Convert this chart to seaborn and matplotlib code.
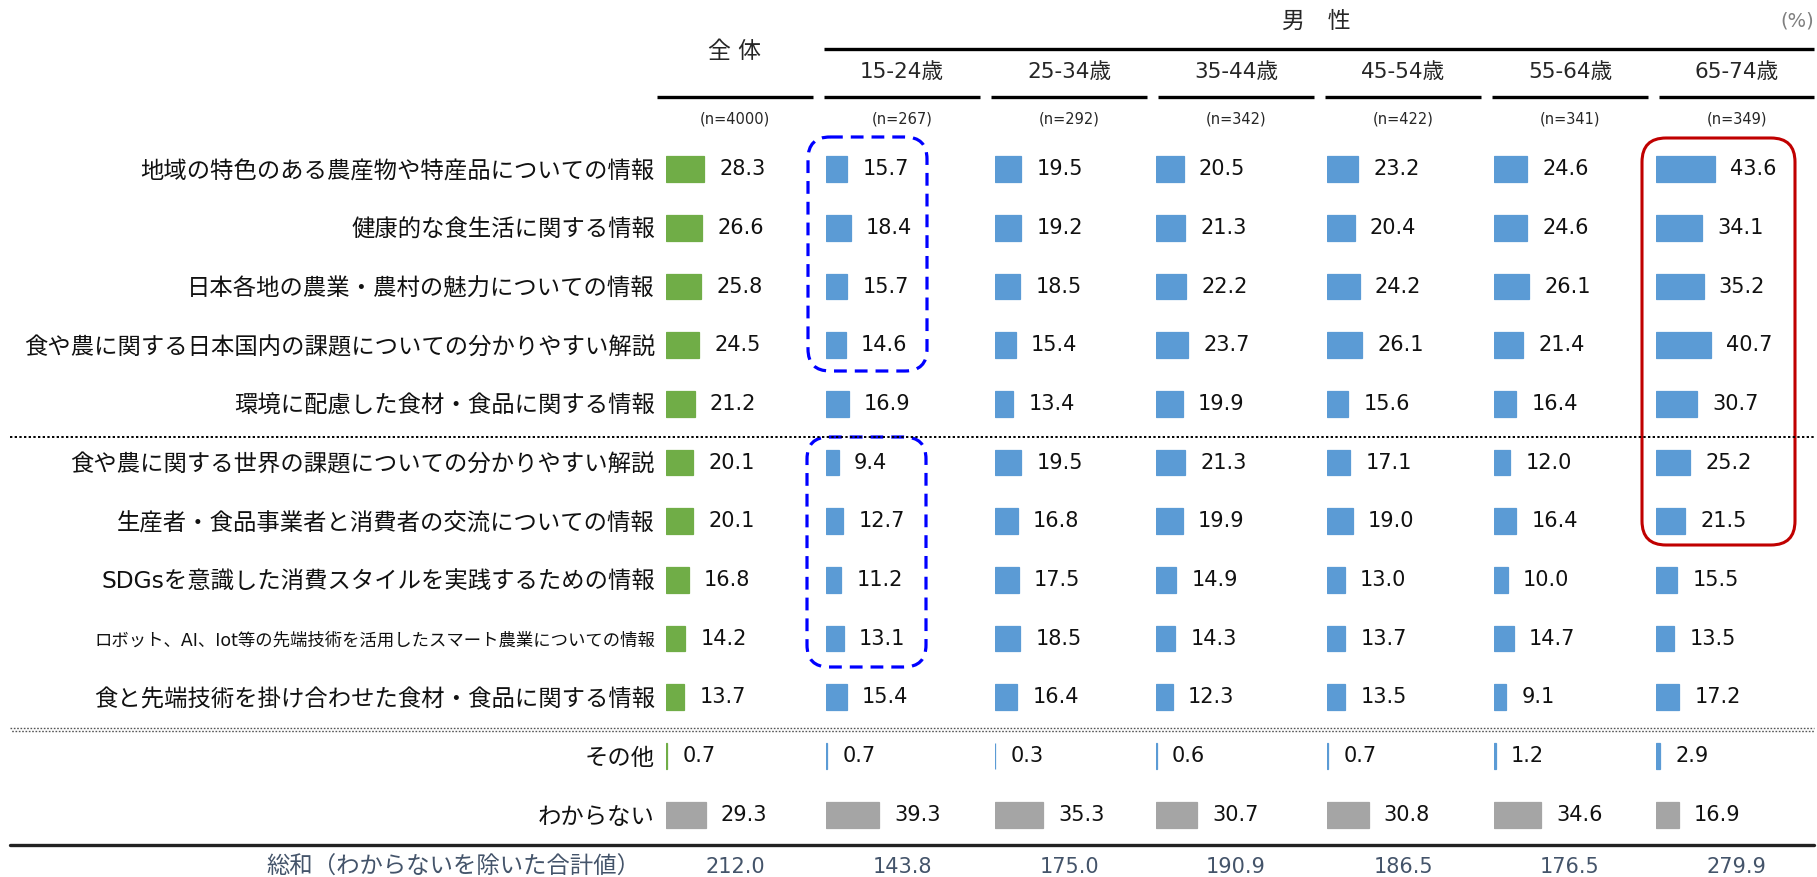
"""Wanted information about food and farming: total vs. male age groups."""

import matplotlib.pyplot as plt
import pandas as pd
import seaborn as sns
from matplotlib.patches import FancyBboxPatch

W, H = 1817, 877

ITEMS = [
    "地域の特色のある農産物や特産品についての情報",
    "健康的な食生活に関する情報",
    "日本各地の農業・農村の魅力についての情報",
    "食や農に関する日本国内の課題についての分かりやすい解説",
    "環境に配慮した食材・食品に関する情報",
    "食や農に関する世界の課題についての分かりやすい解説",
    "生産者・食品事業者と消費者の交流についての情報",
    "SDGsを意識した消費スタイルを実践するための情報",
    "ロボット、AI、Iot等の先端技術を活用したスマート農業についての情報",
    "食と先端技術を掛け合わせた食材・食品に関する情報",
    "その他",
    "わからない",
]
GROUPS = ["全 体", "15-24歳", "25-34歳", "35-44歳", "45-54歳", "55-64歳", "65-74歳"]
N_LABELS = ["(n=4000)", "(n=267)", "(n=292)", "(n=342)", "(n=422)", "(n=341)", "(n=349)"]

TOTAL_ALL = [28.3, 26.6, 25.8, 24.5, 21.2, 20.1, 20.1, 16.8, 14.2, 13.7, 0.7, 29.3]
MALE_15_24 = [15.7, 18.4, 15.7, 14.6, 16.9, 9.4, 12.7, 11.2, 13.1, 15.4, 0.7, 39.3]
MALE_25_34 = [19.5, 19.2, 18.5, 15.4, 13.4, 19.5, 16.8, 17.5, 18.5, 16.4, 0.3, 35.3]
MALE_35_44 = [20.5, 21.3, 22.2, 23.7, 19.9, 21.3, 19.9, 14.9, 14.3, 12.3, 0.6, 30.7]
MALE_45_54 = [23.2, 20.4, 24.2, 26.1, 15.6, 17.1, 19.0, 13.0, 13.7, 13.5, 0.7, 30.8]
MALE_55_64 = [24.6, 24.6, 26.1, 21.4, 16.4, 12.0, 16.4, 10.0, 14.7, 9.1, 1.2, 34.6]
MALE_65_74 = [43.6, 34.1, 35.2, 40.7, 30.7, 25.2, 21.5, 15.5, 13.5, 17.2, 2.9, 16.9]
SUM_EXCL_DK = [212.0, 143.8, 175.0, 190.9, 186.5, 176.5, 279.9]

COLUMNS = [TOTAL_ALL, MALE_15_24, MALE_25_34, MALE_35_44, MALE_45_54, MALE_55_64, MALE_65_74]

GREEN, BLUE, GRAY = "#70AD47", "#5B9BD5", "#A5A5A5"
SUM_COLOR = "#44546A"

# layout in reference pixels
BAR_LEFT = [666, 826, 995, 1156, 1327, 1494, 1656]
COL_SPAN = [(657, 813), (824, 980), (991, 1147), (1158, 1314), (1325, 1481), (1492, 1648), (1659, 1814)]
PX_PER_UNIT = 1.35
AX_W = 140
ROW0, ROW_LAST = 169.2, 814.6
STEP = (ROW_LAST - ROW0) / (len(ITEMS) - 1)

sns.set_theme(style="white")
plt.rcParams["font.family"] = ["DejaVu Sans", "Noto Sans CJK JP"]

fig = plt.figure(figsize=(W / 100, H / 100), dpi=100)

ax_top = ROW0 - STEP / 2
ax_h = STEP * len(ITEMS)

for c, values in enumerate(COLUMNS):
    df = pd.DataFrame({"item": ITEMS, "value": values})
    main_color = GREEN if c == 0 else BLUE
    palette = {it: (GRAY if it == "わからない" else main_color) for it in ITEMS}
    ax = fig.add_axes([BAR_LEFT[c] / W, 1 - (ax_top + ax_h) / H, AX_W / W, ax_h / H])
    sns.barplot(
        data=df, x="value", y="item", hue="item", palette=palette, order=ITEMS,
        orient="h", width=0.44, legend=False, ax=ax, saturation=1,
    )
    # outline each bar in its own colour so the tiny "その他" bars stay visible
    for bar in ax.patches:
        bar.set_edgecolor(bar.get_facecolor())
        bar.set_linewidth(0.9)
    ax.set_xlim(0, AX_W / PX_PER_UNIT)
    ax.set_ylim(len(ITEMS) - 0.5, -0.5)
    for i, v in enumerate(values):
        ax.annotate(f"{v:.1f}", xy=(v, i), xytext=(11, 0), textcoords="offset points",
                    va="center", ha="left", fontsize=15, color="#111111")
    ax.set_xlabel("")
    ax.set_ylabel("")
    ax.set_xticks([])
    sns.despine(ax=ax, left=True, bottom=True)
    ax.patch.set_alpha(0)
    if c == 0:
        ax.tick_params(axis="y", length=0, pad=8, labelsize=16.8, labelcolor="#111111")
        for lab in ax.get_yticklabels():
            if lab.get_text().startswith("ロボット"):
                lab.set_fontsize(12.5)
    else:
        ax.set_yticks([])

# overlay in pixel coordinates for headers, rules and highlight boxes
ov = fig.add_axes([0, 0, 1, 1], zorder=10)
ov.set_xlim(0, W)
ov.set_ylim(H, 0)
ov.axis("off")

centers = [(a + b) / 2 for a, b in COL_SPAN]
ov.text(centers[0], 52, GROUPS[0], ha="center", va="center", fontsize=16.5)
ov.text(1316, 21, "男\u3000性", ha="center", va="center", fontsize=16.5)
ov.text(1814, 21, "(%)", ha="right", va="center", fontsize=14, color="#7F7F7F")
ov.plot([COL_SPAN[1][0], COL_SPAN[-1][1]], [49, 49], color="black", lw=2.4, solid_capstyle="butt")
for c, (a, b) in enumerate(COL_SPAN):
    ov.plot([a, b], [97, 97], color="black", lw=2.4, solid_capstyle="butt")
    if c > 0:
        ov.text(centers[c], 72, GROUPS[c], ha="center", va="center", fontsize=15.5)
    ov.text(centers[c], 119, N_LABELS[c], ha="center", va="center", fontsize=10.5)
    ov.text(centers[c], 867, f"{SUM_EXCL_DK[c]:.1f}", ha="center", va="center",
            fontsize=15, color=SUM_COLOR)
ov.text(640, 867, "総和（わからないを除いた合計値）", ha="right", va="center",
        fontsize=16.8, color=SUM_COLOR)

ov.plot([10, 1814], [437, 437], color="black", lw=1.4, ls=(0, (1.2, 1.2)))
ov.plot([10, 1814], [727.5, 727.5], color="#555555", lw=1.0, ls=(0, (1.2, 1.2)))
ov.plot([10, 1814], [730.5, 730.5], color="#555555", lw=1.0, ls=(1.2, (1.2, 1.2)))
ov.plot([10, 1814], [845, 845], color="#222222", lw=2.4)

for x0, y0, x1, y1 in [(808, 137, 927, 371), (807, 437, 926, 667)]:
    ov.add_patch(FancyBboxPatch((x0, y0), x1 - x0, y1 - y0,
                                boxstyle="round,pad=0,rounding_size=22",
                                fill=False, edgecolor="#0000FF", lw=2.3,
                                ls=(0, (4, 2.5))))
ov.add_patch(FancyBboxPatch((1642, 138), 1795 - 1642, 545 - 138,
                            boxstyle="round,pad=0,rounding_size=24",
                            fill=False, edgecolor="#C00000", lw=2.2))

fig.savefig("out.png", dpi=100)
